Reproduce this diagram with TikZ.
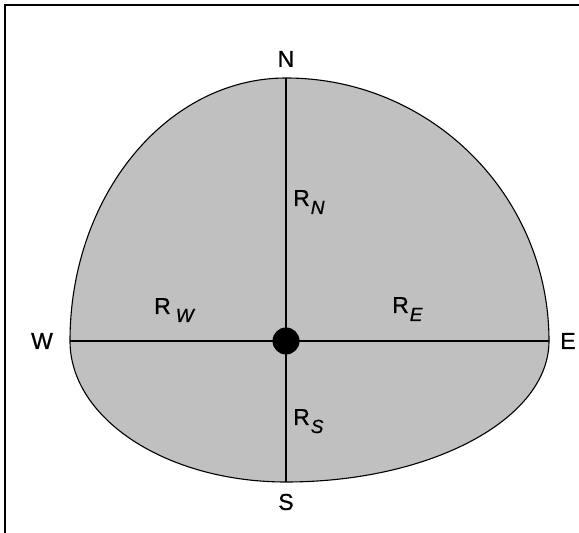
\documentclass[tikz,border=0pt]{standalone}
\usepackage{fontspec}
\setmainfont{Liberation Sans}[FakeBold=0.8]
\begin{document}
\begin{tikzpicture}[x=1pt,y=1pt,
  compass/.style={font=\fontsize{23}{23}\selectfont, inner sep=0pt},
  rlabel/.style={font=\fontsize{23}{23}\selectfont, inner sep=0pt, anchor=base west},
  axis/.style={line width=2.4pt, black},
  outline/.style={line width=1.1pt, black, fill={rgb,255:red,192;green,192;blue,192}}]
\useasboundingbox (0,0) rectangle (579,533);
% frame (open at right and bottom)
\draw[line width=1.4pt] (5,0) -- (5,528) -- (579,528);
\coordinate (C) at (286,192);
\coordinate (Np) at (286,455);
\coordinate (Sp) at (286,51);
\coordinate (Wp) at (70,192);
\coordinate (Ep) at (549,192);
% shape
\draw[outline] (Wp) arc[start angle=180, end angle=90, x radius=216, y radius=263]
  arc[start angle=90, end angle=0, x radius=263, y radius=263]
  arc[start angle=0, end angle=-90, x radius=263, y radius=141]
  arc[start angle=-90, end angle=-180, x radius=216, y radius=141] -- cycle;
\draw[axis] (Wp) -- (Ep);
\draw[axis] (Np) -- (Sp);
\fill (C) circle[radius=13.5];
% compass labels
\node[compass] (n) at (286,474) {N};
\node[compass] (s) at (286,31) {S};
\node[compass] (w) at (42,192) {W};
\node[compass] (e) at (568,192) {E};
% radius labels
\newcommand{\subl}[1]{\kern1pt\raisebox{-8pt}{\fontsize{19}{19}\selectfont\itshape #1}}
\node[rlabel] (rn) at (293,327) {R\subl{N}};
\node[rlabel] (rw) at (154,219) {R\kern4pt\subl{W}};
\node[rlabel] (re) at (392,220) {R\subl{E}};
\node[rlabel] (rs) at (293,108) {R\subl{S}};
\end{tikzpicture}
\end{document}
